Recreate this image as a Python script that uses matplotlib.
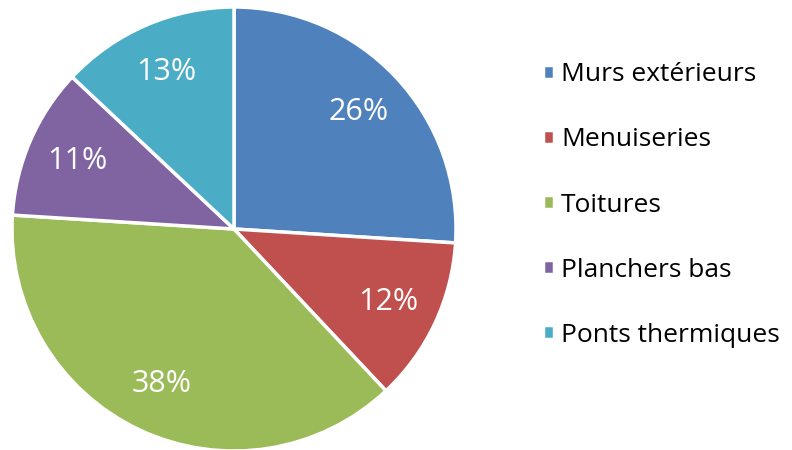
import matplotlib
matplotlib.use("Agg")
import matplotlib.pyplot as plt

categories = ["Murs extérieurs", "Menuiseries", "Toitures", "Planchers bas", "Ponts thermiques"]
shares = [26, 12, 38, 11, 13]
colors = ["#4F81BD", "#C0504D", "#9BBB59", "#8064A2", "#4BACC6"]

plt.rcParams["font.family"] = ["Open Sans", "DejaVu Sans"]

fig = plt.figure(figsize=(7.92, 4.5), dpi=100)
ax = fig.add_axes([12 / 792, -1 / 450, 444 / 792, 444 / 450])

wedges, texts, autotexts = ax.pie(
    shares,
    colors=colors,
    startangle=90,
    counterclock=False,
    autopct=lambda p: f"{p:.0f}%",
    pctdistance=0.77,
    radius=1.0,
    wedgeprops=dict(edgecolor="white", linewidth=2.5, clip_on=False),
    textprops=dict(color="white", fontsize=22),
)
ax.set_xlim(-1.0, 1.0)
ax.set_ylim(-1.0, 1.0)
ax.set_aspect("equal")
ax.axis("off")

fig.legend(
    wedges,
    categories,
    loc="center left",
    bbox_to_anchor=(519 / 792, 1 - 205 / 450),
    frameon=False,
    fontsize=19,
    handlelength=0.42,
    handleheight=0.42,
    handletextpad=0.28,
    labelspacing=1.52,
)

fig.savefig("out.png", dpi=100)
